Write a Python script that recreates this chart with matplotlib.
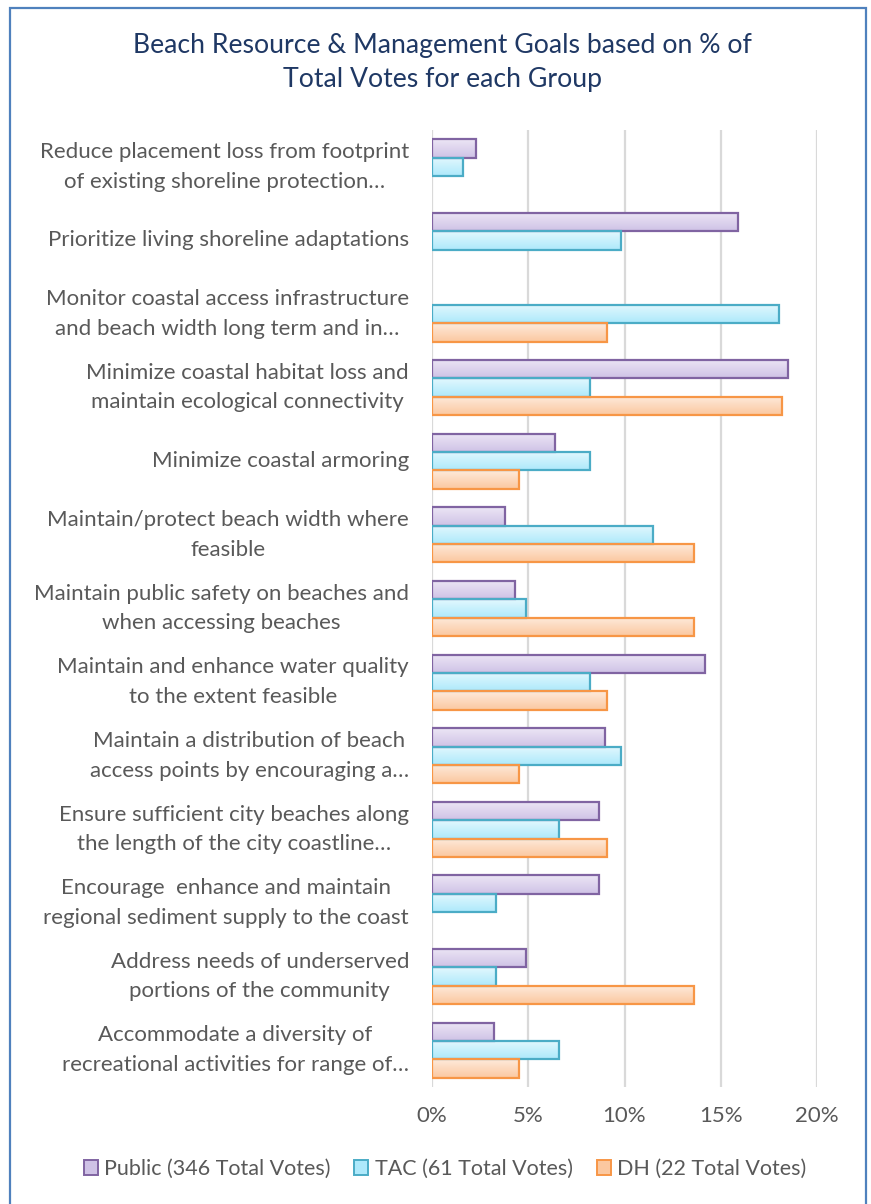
import numpy as np
import matplotlib
matplotlib.use("Agg")
import matplotlib.pyplot as plt
from matplotlib.patches import Rectangle
from matplotlib.colors import to_rgb
from matplotlib.ticker import FuncFormatter

plt.rcParams['font.family'] = ['Lato', 'DejaVu Sans']

# Goals, listed top to bottom
goals = [
    "Reduce placement loss from footprint\nof existing shoreline protection…",
    "Prioritize living shoreline adaptations",
    "Monitor coastal access infrastructure\nand beach width long term and in…",
    "Minimize coastal habitat loss and\nmaintain ecological connectivity",
    "Minimize coastal armoring",
    "Maintain/protect beach width where\nfeasible",
    "Maintain public safety on beaches and\nwhen accessing beaches",
    "Maintain and enhance water quality\nto the extent feasible",
    "Maintain a distribution of beach\naccess points by encouraging a…",
    "Ensure sufficient city beaches along\nthe length of the city coastline…",
    "Encourage  enhance and maintain\nregional sediment supply to the coast",
    "Address needs of underserved\nportions of the community",
    "Accommodate a diversity of\nrecreational activities for range of…",
]

# Share of each group's total votes (%)
public = [2.3, 15.9, 0.0, 18.5, 6.4, 3.8, 4.3, 14.2, 9.0, 8.7, 8.7, 4.9, 3.2]
tac = [1.6, 9.8, 18.0, 8.2, 8.2, 11.5, 4.9, 8.2, 9.8, 6.6, 3.3, 3.3, 6.6]
dh = [0.0, 0.0, 9.1, 18.2, 4.5, 13.6, 13.6, 9.1, 4.5, 9.1, 0.0, 13.6, 4.5]

series_names = ["Public (346 Total Votes)", "TAC (61 Total Votes)", "DH (22 Total Votes)"]
x_ticks = [0, 5, 10, 15, 20]

styles = [
    # (top fill, bottom fill, edge)
    ("#ece6f5", "#cfc2e6", "#8064a2"),
    ("#e2f8fe", "#aee9fb", "#4bacc6"),
    ("#feeadb", "#fbc8a0", "#f79646"),
]

W, H = 871, 1204
fig = plt.figure(figsize=(W / 100, H / 100), dpi=100)
fig.patch.set_facecolor("white")

# Outer chart border
fig.add_artist(Rectangle((10 / W, -0.01), (866 - 10) / W, 1 - 8 / H + 0.01,
                         transform=fig.transFigure, fill=False,
                         edgecolor="#4f81bd", linewidth=1.6))

ax = fig.add_axes([432 / W, 117 / H, (817 - 432) / W, (1087 - 130) / H])
n = len(goals)
y = np.arange(n)
bh = 0.25
offsets = [-bh, 0.0, bh]


def gradient_bar(ax, x0, yc, width, height, top, bottom, edge):
    if width <= 0:
        return
    rect = Rectangle((x0, yc - height / 2), width, height, facecolor="none",
                     edgecolor=edge, linewidth=1.6, zorder=3)
    ax.add_patch(rect)
    c1 = np.array(to_rgb(top))
    c2 = np.array(to_rgb(bottom))
    t = np.linspace(0, 1, 32)[:, None]
    img = (c1 * (1 - t) + c2 * t)[:, None, :]
    im = ax.imshow(img, extent=(x0, x0 + width, yc + height / 2, yc - height / 2),
                   aspect="auto", interpolation="bilinear", zorder=2)
    im.set_clip_path(rect)


for vals, off, (top, bottom, edge) in zip([public, tac, dh], offsets, styles):
    for yi, v in zip(y, vals):
        gradient_bar(ax, 0, yi + off, v, bh, top, bottom, edge)

ax.set_xlim(0, 20)
ax.set_ylim(n - 0.5, -0.5)
ax.set_xticks(x_ticks)
ax.xaxis.set_major_formatter(FuncFormatter(lambda v, p: f"{v:.0f}%"))
ax.set_yticks(y)
ax.set_yticklabels(goals, ha="right", va="center", multialignment="center",
                   linespacing=1.6)
ax.tick_params(axis="both", length=0, colors="#595959", labelsize=16)
ax.tick_params(axis="y", pad=16.5)
ax.tick_params(axis="x", pad=13.5)
ax.grid(axis="x", color="#d9d9d9", linewidth=1.6, zorder=0)
ax.set_axisbelow(True)
for s in ax.spines.values():
    s.set_visible(False)

fig.text(442 / W, 1 - 46 / H, "Beach Resource & Management Goals based on % of",
         ha="center", va="center", fontsize=19.2, color="#1f3864")
fig.text(442 / W, 1 - 80 / H, "Total Votes for each Group",
         ha="center", va="center", fontsize=19.2, color="#1f3864")

handles = [Rectangle((0, 0), 1, 1, facecolor=bottom, edgecolor=edge, linewidth=1.4)
           for (top, bottom, edge) in styles]
leg = fig.legend(handles, series_names, loc="center",
                 bbox_to_anchor=(445 / W, 1 - 1169 / H), ncol=3, frameon=False,
                 fontsize=15.5, handlelength=0.65, handleheight=0.65,
                 handletextpad=0.3, columnspacing=1.1)
for t in leg.get_texts():
    t.set_color("#595959")

fig.savefig("out.png", dpi=100, facecolor="white")
